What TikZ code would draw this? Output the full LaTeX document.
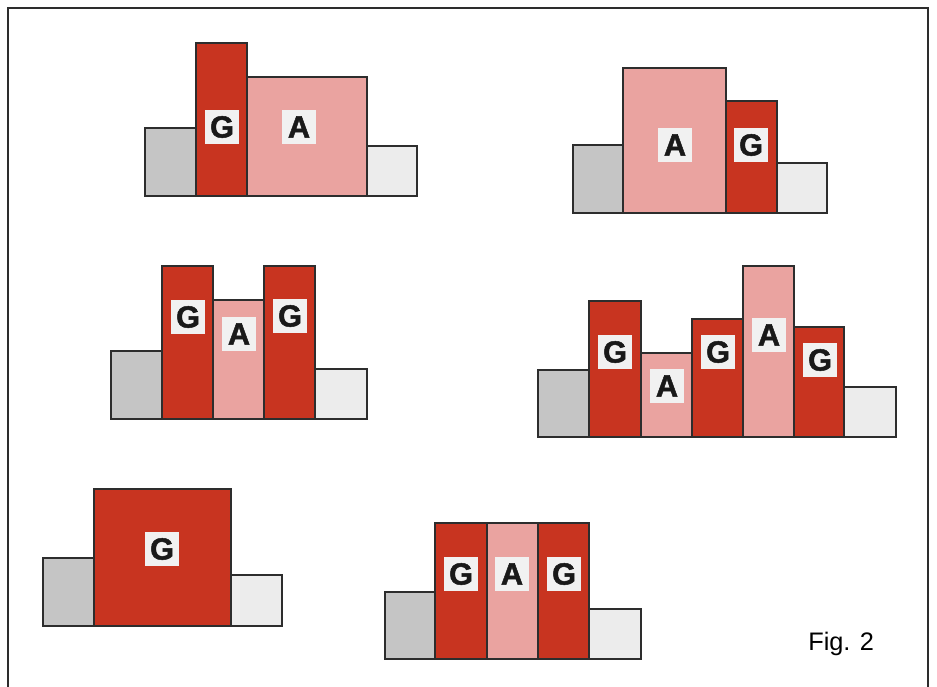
\documentclass[tikz,border=0pt]{standalone}
\usepackage{fontspec}
\setmainfont{Liberation Sans}
\newfontfamily\tagfont{Liberation Sans}[BoldFeatures={FakeBold=1.6}]
\usepackage{xcolor}

\definecolor{brick}{RGB}{200,52,32}
\definecolor{rose}{RGB}{234,163,160}
\definecolor{stone}{RGB}{197,197,197}
\definecolor{mist}{RGB}{236,236,236}
\definecolor{tag}{RGB}{241,241,241}
\definecolor{edge}{RGB}{45,45,45}
\definecolor{ink}{RGB}{25,25,25}

\begin{document}
\begin{tikzpicture}[x=0.75pt, y=-0.75pt,
  bar/.style={draw=edge, line width=1.1pt},
  gbar/.style={bar, fill=brick},
  abar/.style={bar, fill=rose},
  lbar/.style={bar, fill=stone},
  rbar/.style={bar, fill=mist},
  lbl/.style={fill=tag, text=ink, inner sep=0pt, minimum size=25.5pt,
    font=\tagfont\bfseries\fontsize{23}{23}\selectfont}]
  \useasboundingbox (0,0) rectangle (937,686);

  % Frame (open at the bottom)
  \draw[edge, line width=1.1pt] (8,690) -- (8,8) -- (928,8) -- (928,690);

  % Top left: G A
  \draw[lbar] (145,196) rectangle (196,128);
  \draw[gbar] (196,196) rectangle (247,43);
  \draw[abar] (247,196) rectangle (367,77);
  \draw[rbar] (367,196) rectangle (417,146);
  \node[lbl] (ga-g) at (222,127) {G};
  \node[lbl] (ga-a) at (299,127) {A};

  % Top right: A G
  \draw[lbar] (573,213) rectangle (623,145);
  \draw[abar] (623,213) rectangle (726,68);
  \draw[gbar] (726,213) rectangle (777,101);
  \draw[rbar] (777,213) rectangle (827,163);
  \node[lbl] (ag-a) at (675,145) {A};
  \node[lbl] (ag-g) at (751,145) {G};

  % Middle left: G A G
  \draw[lbar] (111,419) rectangle (162,351);
  \draw[gbar] (162,419) rectangle (213,266);
  \draw[abar] (213,419) rectangle (264,300);
  \draw[gbar] (264,419) rectangle (315,266);
  \draw[rbar] (315,419) rectangle (367,369);
  \node[lbl] (gag-g1) at (188,317) {G};
  \node[lbl] (gag-a) at (239,334) {A};
  \node[lbl] (gag-g2) at (290,316) {G};

  % Middle right: G A G A G
  \draw[lbar] (538,437) rectangle (589,370);
  \draw[gbar] (589,437) rectangle (641,301);
  \draw[abar] (641,437) rectangle (692,353);
  \draw[gbar] (692,437) rectangle (743,319);
  \draw[abar] (743,437) rectangle (794,266);
  \draw[gbar] (794,437) rectangle (844,327);
  \draw[rbar] (844,437) rectangle (896,387);
  \node[lbl] (five-g1) at (615,352) {G};
  \node[lbl] (five-a1) at (667,386) {A};
  \node[lbl] (five-g2) at (718,352) {G};
  \node[lbl] (five-a2) at (769,335) {A};
  \node[lbl] (five-g3) at (820,360) {G};

  % Bottom left: G
  \draw[lbar] (43,626) rectangle (94,558);
  \draw[gbar] (94,626) rectangle (231,489);
  \draw[rbar] (231,626) rectangle (282,575);
  \node[lbl] (g-g) at (162,549) {G};

  % Bottom middle: G A G, all equal
  \draw[lbar] (385,659) rectangle (435,592);
  \draw[gbar] (435,659) rectangle (487,523);
  \draw[abar] (487,659) rectangle (538,523);
  \draw[gbar] (538,659) rectangle (589,523);
  \draw[rbar] (589,659) rectangle (641,609);
  \node[lbl] (flat-g1) at (461,574) {G};
  \node[lbl] (flat-a) at (512,574) {A};
  \node[lbl] (flat-g2) at (564,574) {G};

  \node[anchor=base west, inner sep=0pt, font=\fontsize{19}{19}\selectfont] (fig) at (808,650) {Fig. 2};
\end{tikzpicture}
\end{document}
